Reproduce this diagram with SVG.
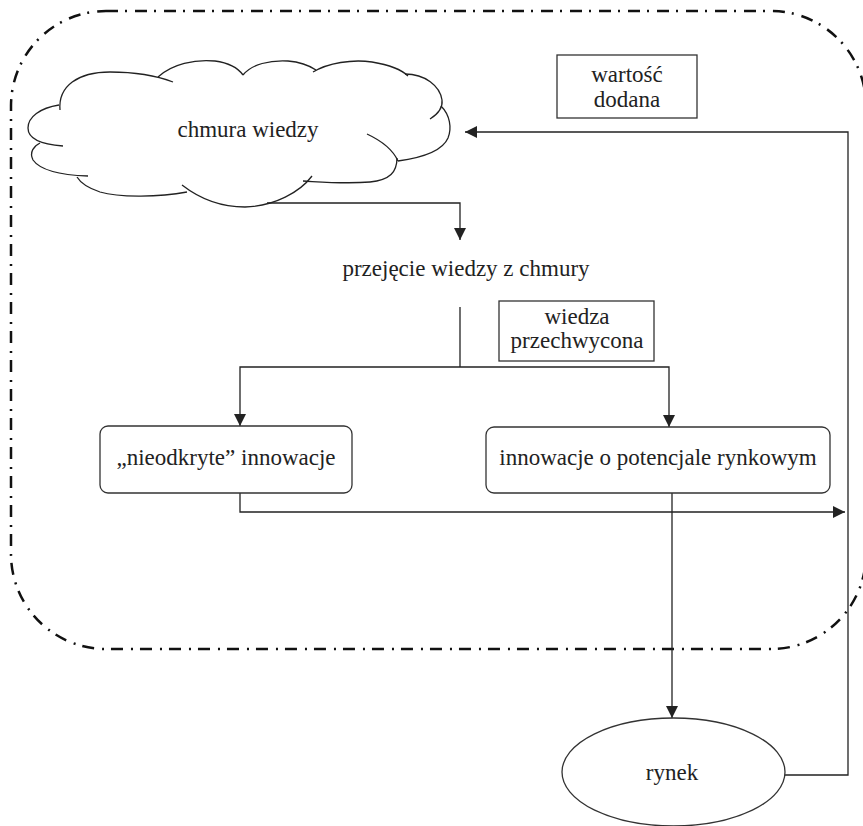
<svg xmlns="http://www.w3.org/2000/svg" width="863" height="826" viewBox="0 0 863 826">
  <style>
    .txt { font-family: "Liberation Serif", "Times New Roman", serif; font-size: 23px; fill: #222; text-anchor: middle; }
    .box { fill: #fff; stroke: #333; stroke-width: 1.3; }
    .cloud { fill: none; stroke: #222; stroke-width: 1.3; }
    .conn { fill: none; stroke: #222; stroke-width: 1.3; }
    .frame { fill: none; stroke: #111; stroke-width: 2.5; stroke-dasharray: 12 7 2 8; }
  </style>
  <defs>
    <marker id="arrow" viewBox="0 0 12 12" refX="12" refY="6" markerWidth="12" markerHeight="12" markerUnits="userSpaceOnUse" orient="auto">
      <path d="M0,0 L12,6 L0,12 Z" fill="#222"/>
    </marker>
  </defs>

  <!-- dash-dot boundary of the system -->
  <rect class="frame" x="11" y="11" width="855" height="638" rx="95" ry="95"/>

  <!-- connectors -->
  <g id="connectors">
    <polyline class="conn" points="267,203 460,203 460,240" marker-end="url(#arrow)"/>
    <line class="conn" x1="460" y1="307" x2="460" y2="367"/>
    <polyline class="conn" points="460,367 240,367 240,426" marker-end="url(#arrow)"/>
    <polyline class="conn" points="460,367 669,367 669,427" marker-end="url(#arrow)"/>
    <polyline class="conn" points="240,493 240,512 845,512" marker-end="url(#arrow)"/>
    <line class="conn" x1="672" y1="493" x2="672" y2="718" marker-end="url(#arrow)"/>
    <polyline class="conn" points="785,775 848,775 848,132 465,132" marker-end="url(#arrow)"/>
  </g>

  <!-- knowledge cloud -->
  <g id="cloud">
    <path class="cloud" d="M60,110 C58,86 78,72 110,72 C140,72 160,77 173,82"/>
    <path class="cloud" d="M158,77 C172,64 195,59 215,61 C230,63 238,68 243,75"/>
    <path class="cloud" d="M243,75 C252,64 270,60 288,61 C300,62 310,66 316,70"/>
    <path class="cloud" d="M313,72 C328,63 352,59 372,62 C390,65 402,70 408,76"/>
    <path class="cloud" d="M405,74 C425,74 440,86 442,100 C443,108 438,114 430,119"/>
    <path class="cloud" d="M441,106 C450,115 452,128 448,138 C442,152 420,158 398,161"/>
    <path class="cloud" d="M367,134 C382,141 393,150 398,161"/>
    <path class="cloud" d="M397,158 C397,172 390,180 370,182 C345,184 322,182 303,181"/>
    <path class="cloud" d="M182,185 C200,199 222,207 245,207 C275,206 300,192 312,176"/>
    <path class="cloud" d="M187,192 C160,197 120,198 100,192 C88,188 80,182 77,177"/>
    <path class="cloud" d="M88,176 C60,175 40,170 33,160 C29,152 34,146 40,143"/>
    <path class="cloud" d="M59,105 C40,108 28,117 28,128 C28,137 36,144 63,146"/>
    <text class="txt" x="248" y="137">chmura wiedzy</text>
  </g>

  <g id="przejecie">
    <text class="txt" x="466" y="276">przejęcie wiedzy z chmury</text>
  </g>

  <g id="wiedza-przechwycona">
    <rect class="box" x="499" y="301" width="155" height="60"/>
    <text class="txt" x="577" y="324">wiedza</text>
    <text class="txt" x="577" y="348">przechwycona</text>
  </g>

  <g id="wartosc-dodana">
    <rect class="box" x="557" y="55" width="140" height="63"/>
    <text class="txt" x="627" y="82">wartość</text>
    <text class="txt" x="627" y="107">dodana</text>
  </g>

  <g id="nieodkryte">
    <rect class="box" x="100" y="426" width="252" height="67" rx="8" ry="8"/>
    <text class="txt" x="226" y="465">„nieodkryte” innowacje</text>
  </g>

  <g id="potencjal">
    <rect class="box" x="486" y="427" width="344" height="66" rx="8" ry="8"/>
    <text class="txt" x="658" y="465">innowacje o potencjale rynkowym</text>
  </g>

  <g id="rynek">
    <ellipse class="box" cx="673.5" cy="772" rx="111.5" ry="54"/>
    <text class="txt" x="672" y="780">rynek</text>
  </g>
</svg>
